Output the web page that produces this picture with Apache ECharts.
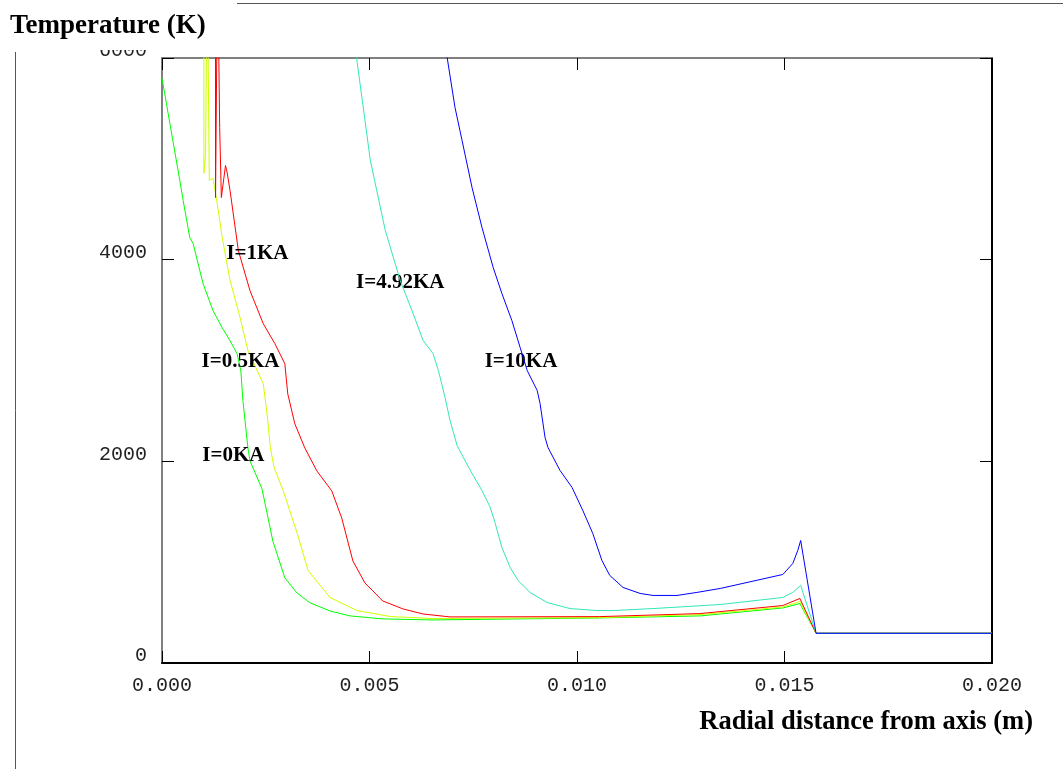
<!DOCTYPE html>
<html><head><meta charset="utf-8">
<script src="https://cdn.jsdelivr.net/npm/echarts@6/dist/echarts.min.js"></script>
<style>html,body{margin:0;padding:0;background:#fff}#c{width:1063px;height:769px}</style>
</head><body><div id="c"></div>
<script>
// ---- data (x: radial distance in m, y: temperature in K) ----
const seriesNames = ['I=0KA', 'I=0.5KA', 'I=1KA', 'I=4.92KA', 'I=10KA'];
const yTickValues = [0, 2000, 4000, 6000];
const xTickValues = [0, 0.005, 0.010, 0.015, 0.020];

const curve0KA = [
  [0.0000,5800],[0.00019,5350],[0.00043,4784],[0.00051,4586],[0.00067,4218],[0.00075,4159],
  [0.00099,3762],[0.00123,3494],[0.00145,3325],[0.00164,3196],[0.00181,3067],[0.00190,2898],
  [0.00195,2601],[0.00207,2134],[0.00212,2005],[0.00241,1727],[0.00267,1211],[0.00296,844],
  [0.00325,695],[0.00357,596],[0.00405,516],[0.00453,467],[0.00533,437],[0.00653,427],
  [0.01055,447],[0.01296,467],[0.01345,486],[0.01496,546],[0.01537,590],[0.01576,295],[0.02000,295]
];
const curve05KA = [
  [0.0000,15000],[0.00100,15000],[0.00101,4856],[0.00105,5055],[0.00109,7000],[0.00114,4786],
  [0.00123,4806],[0.00133,4558],[0.00145,4221],[0.00164,3794],[0.00188,3427],[0.00207,3100],
  [0.00229,2901],[0.00244,2772],[0.00254,2435],[0.00261,2137],[0.00270,1939],[0.00292,1710],
  [0.00326,1284],[0.00352,917],[0.00405,649],[0.00470,520],[0.00550,461],[0.00653,441],
  [0.01055,450],[0.01296,480],[0.01496,555],[0.01537,610],[0.01576,295],[0.02000,295]
];
const curve1KA = [
  [0.0000,20000],[0.00128,20000],[0.00129,4616],[0.00134,7000],[0.00139,5310],[0.00143,4616],
  [0.00153,4933],[0.00157,4864],[0.00164,4685],[0.00184,4090],[0.00212,3693],[0.00244,3365],
  [0.00272,3167],[0.00296,2968],[0.00303,2670],[0.00320,2373],[0.00344,2134],[0.00373,1906],
  [0.00409,1707],[0.00433,1439],[0.00460,1012],[0.00489,794],[0.00532,615],[0.00581,536],
  [0.00629,486],[0.00694,457],[0.01055,460],[0.01296,490],[0.01496,570],[0.01537,640],
  [0.01576,295],[0.02000,295]
];
const curve492KA = [
  [0.00420,7500],[0.00502,4985],[0.00538,4290],[0.00574,3794],[0.00605,3467],[0.00629,3199],
  [0.00653,3070],[0.00666,2902],[0.00682,2634],[0.00694,2406],[0.00711,2158],[0.00726,2039],
  [0.00747,1880],[0.00771,1711],[0.00791,1543],[0.00803,1384],[0.00819,1146],[0.00839,947],
  [0.00858,818],[0.00887,699],[0.00928,600],[0.00983,540],[0.01048,520],[0.01087,520],
  [0.01183,540],[0.01265,560],[0.01345,580],[0.01496,650],[0.01520,700],[0.01539,770],
  [0.01576,295],[0.02000,295]
];
const curve10KA = [
  [0.00630,7500],[0.00706,5510],[0.00723,5183],[0.00747,4717],[0.00771,4320],[0.00798,3923],
  [0.00819,3665],[0.00843,3397],[0.00863,3129],[0.00880,2901],[0.00904,2703],[0.00911,2574],
  [0.00923,2237],[0.00930,2138],[0.00959,1910],[0.00988,1741],[0.01014,1513],[0.01038,1285],
  [0.01060,1017],[0.01079,868],[0.01111,749],[0.01152,690],[0.01183,670],[0.01241,670],
  [0.01289,700],[0.01345,739],[0.01496,878],[0.01520,987],[0.01532,1116],[0.01539,1215],
  [0.01576,295],[0.02000,295]
];

const curves = [curve0KA, curve05KA, curve1KA, curve492KA, curve10KA];
const colors = ['#00ff00', '#ccff00', '#ff0000', '#33e6b8', '#0000ff'];
const labelAnchors = [[0.00172,2060],[0.00189,2992],[0.00230,4063],[0.00574,3775],[0.00865,2992]];

const serif = '"Liberation Serif", "Times New Roman", serif';
const mono = '"Liberation Mono", "Courier New", monospace';

const chart = echarts.init(document.getElementById('c'), null, {renderer: 'canvas'});

const series = curves.map((d, i) => ({
  name: seriesNames[i],
  type: 'line',
  data: d,
  symbol: 'none',
  clip: true,
  xAxisIndex: 0,
  yAxisIndex: 0,
  lineStyle: {width: 1, color: colors[i]},
  itemStyle: {color: colors[i]},
  animation: false,
  z: 2 + i,
  markPoint: {
    symbol: 'circle', symbolSize: 0, silent: true, animation: false,
    data: [{coord: labelAnchors[i], value: seriesNames[i]}],
    label: {
      show: true, position: 'inside', formatter: seriesNames[i],
      color: '#000', fontFamily: serif, fontWeight: 'bold', fontSize: 21
    }
  }
}));

function tick() {
  return {show: true, inside: true, length: 12, lineStyle: {color: '#000', width: 1}};
}
// tick-only helper axes (no line, no labels), ticks pointing into the plot
function tickAxis(kind, pos, max, interval) {
  return {type: 'value', min: 0, max: max, interval: interval, position: pos,
    axisLine: {show: false, onZero: false}, axisTick: tick(),
    axisLabel: {show: false}, splitLine: {show: false}};
}

chart.setOption({
  backgroundColor: '#fff',
  animation: false,
  title: [
    {text: 'Temperature (K)', left: 5, top: 8,
     textStyle: {fontFamily: serif, fontWeight: 'bold', fontSize: 27, color: '#000'}},
    {text: 'Radial distance from axis (m)', right: 25, top: 704,
     textStyle: {fontFamily: serif, fontWeight: 'bold', fontSize: 26.5, color: '#000'}}
  ],
  grid: {left: 162, right: 71, top: 58, bottom: 106, containLabel: false},
  xAxis: [
    {type: 'value', min: 0, max: 0.02, interval: 0.005, position: 'bottom',
     axisLine: {show: true, onZero: false, lineStyle: {color: '#000', width: 2}},
     axisTick: {show: false},
     axisLabel: {show: true, margin: 13, fontFamily: mono, fontSize: 20, color: '#222',
       formatter: v => v.toFixed(3)},
     splitLine: {show: false}},
    {type: 'value', min: 0, max: 0.02, interval: 0.005, position: 'top',
     axisLine: {show: true, onZero: false, lineStyle: {color: '#808080', width: 2}},
     axisTick: tick(),
     axisLabel: {show: false}, splitLine: {show: false}},
    tickAxis('x', 'bottom', 0.02, 0.005)
  ],
  yAxis: [
    {type: 'value', min: 0, max: 6000, interval: 2000, position: 'left',
     axisLine: {show: true, onZero: false, lineStyle: {color: '#808080', width: 2}},
     axisTick: {show: false},
     axisLabel: {show: true, margin: 15, fontFamily: mono, fontSize: 20, color: '#222',
       verticalAlign: 'bottom', lineHeight: 14, formatter: v => String(v)},
     splitLine: {show: false}},
    {type: 'value', min: 0, max: 6000, interval: 2000, position: 'right',
     axisLine: {show: true, onZero: false, lineStyle: {color: '#000', width: 2}},
     axisTick: tick(),
     axisLabel: {show: false}, splitLine: {show: false}},
    tickAxis('y', 'left', 6000, 2000)
  ],
  graphic: [
    {type: 'rect', shape: {x: 90, y: 40, width: 68, height: 10}, style: {fill: '#fff'}, z: 100, silent: true},
    {type: 'line', shape: {x1: 237, y1: 3.5, x2: 1063, y2: 3.5}, style: {stroke: '#555', lineWidth: 1}, z: 100, silent: true},
    {type: 'line', shape: {x1: 15.5, y1: 52, x2: 15.5, y2: 769}, style: {stroke: '#555', lineWidth: 1}, z: 100, silent: true}
  ],
  series: series
});
</script>
</body></html>
